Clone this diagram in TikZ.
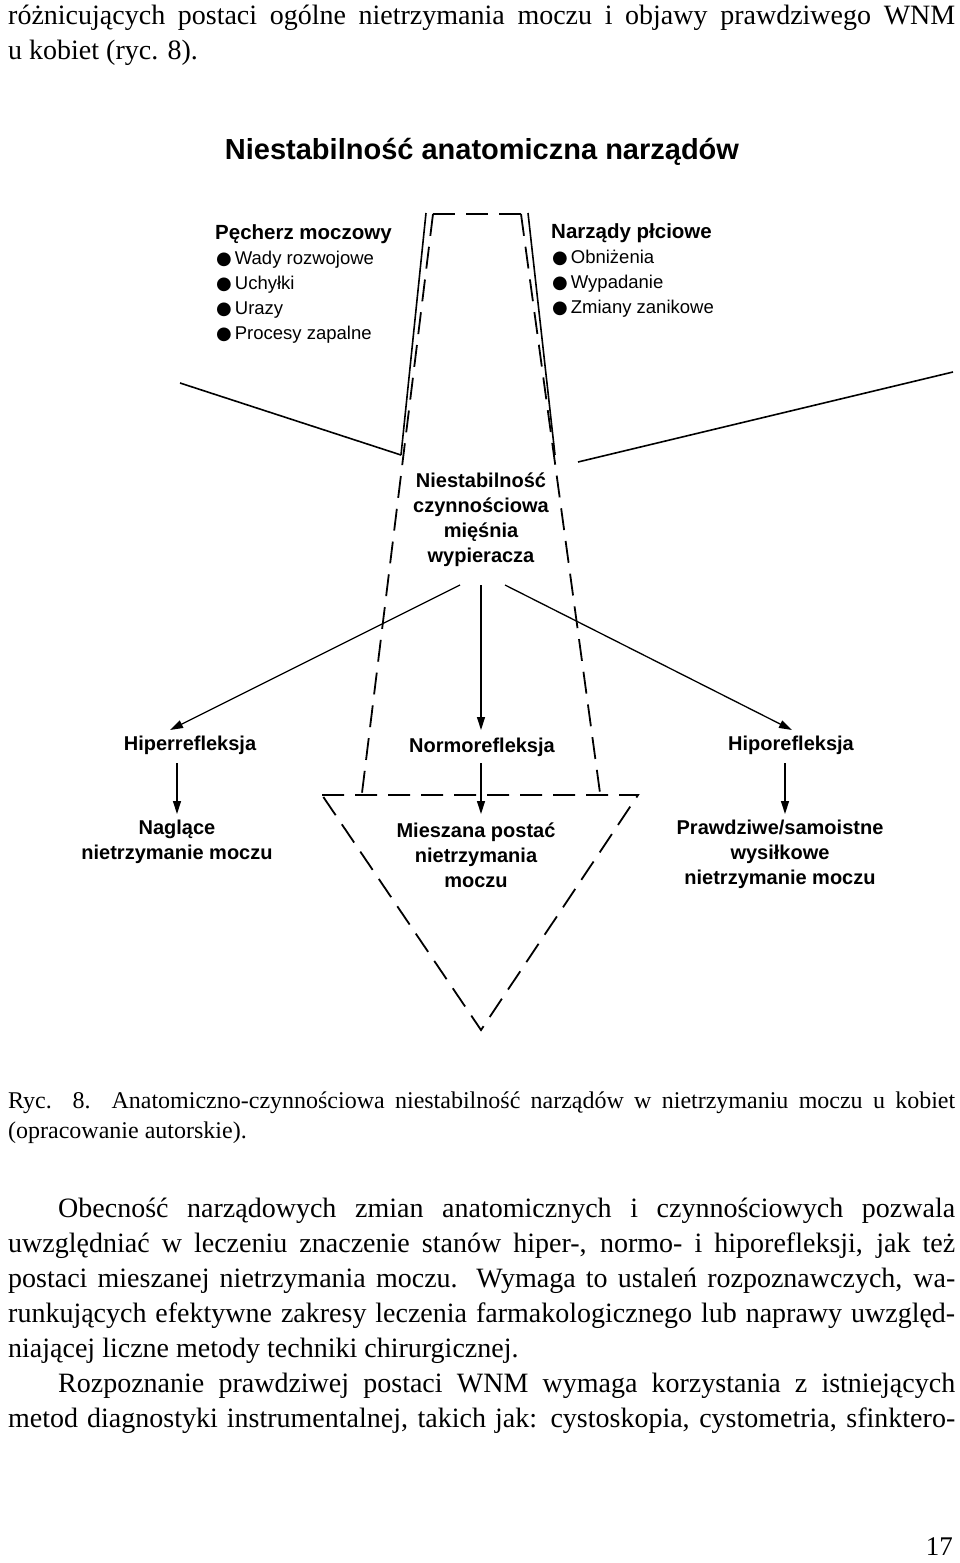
\documentclass[tikz,border=0pt]{standalone}
\usepackage{fontspec}
\setmainfont{Liberation Serif}
\newfontfamily\dsans{Liberation Sans}
\newfontfamily\bulf{DejaVu Sans}
\usetikzlibrary{arrows.meta}
\begin{document}
\begin{tikzpicture}[x=1pt,y=-1pt,
  lbl/.style={font=\dsans\bfseries\fontsize{20}{25}\selectfont,align=center,inner sep=0},
  itm/.style={font=\dsans\fontsize{18.5}{25}\selectfont,anchor=base west,inner sep=0},
  solidln/.style={line width=1.6pt},
  dsh/.style={line width=1.8pt,dash pattern=on 22pt off 11pt},
  arr/.style={line width=1.3pt,-{Triangle[length=13pt,width=8pt]}},
  body/.style={font=\fontsize{28}{35}\selectfont,anchor=north west,inner sep=0,text width=947pt,align=justify}]
\useasboundingbox (0,0) rectangle (960,1563);
% top text
\node[body] (t0) at (8,0) {\strut różnicujących postaci ogólne nietrzymania moczu i objawy prawdziwego WNM\linebreak u kobiet (ryc. 8).};
\node[font=\dsans\bfseries\fontsize{29}{34}\selectfont,inner sep=0] (title) at (482,152) {Niestabilność anatomiczna narządów};
% left block
\node[font=\dsans\bfseries\fontsize{20.5}{25}\selectfont,anchor=base west,inner sep=0] (pech) at (215,239) {Pęcherz moczowy};
\foreach \t [count=\i] in {Wady rozwojowe,Uchyłki,Urazy,Procesy zapalne}{
  \node[itm] (pb\i) at (216,{239+\i*25}) {{\bulf\fontsize{18}{18}\selectfont ●}\hspace{3pt}\t};}
\node[font=\dsans\bfseries\fontsize{20.5}{25}\selectfont,anchor=base west,inner sep=0] (narz) at (551,238) {Narządy płciowe};
\foreach \t [count=\i] in {Obniżenia,Wypadanie,Zmiany zanikowe}{
  \node[itm] (nb\i) at (552,{238+\i*25}) {{\bulf\fontsize{18}{18}\selectfont ●}\hspace{3pt}\t};}
% funnel shape
\coordinate (sl1) at (426,213); \coordinate (sl2) at (401,455);
\coordinate (sr1) at (528,213); \coordinate (sr2) at (555,455);
\draw[solidln] (sl1) -- (sl2);
\draw[solidln] (sr1) -- (sr2);
\coordinate (dl1) at (433,214); \coordinate (dr1) at (521,214);
\coordinate (dl2) at (362,793); \coordinate (dr2) at (600,793);
\coordinate (tl) at (322,795); \coordinate (tr) at (638,795); \coordinate (tb) at (481,1030);
\draw[dsh] (dl1) -- (dr1);
\draw[dsh] (dl1) -- (dl2);
\draw[dsh] (dr1) -- (dr2);
\draw[dsh] (tl) -- (tr) -- (tb) -- cycle;
% diagonals
\coordinate (ll) at (180,383); \coordinate (rl) at (953,372);
\coordinate (rm) at (578,462);
\draw[solidln] (ll) -- (sl2);
\draw[solidln] (rl) -- (rm);
\node[lbl] (nie) at (481,520) {Niestabilność\\czynnościowa\\mięśnia\\wypieracza};
\node[lbl] (hiper) at (190,745) {Hiperrefleksja};
\node[lbl] (normo) at (482,747) {Normorefleksja};
\node[lbl] (hipo) at (791,745) {Hiporefleksja};
\coordinate (a1) at (460,585); \coordinate (a2) at (481,585); \coordinate (a3) at (505,585);
\coordinate (e1) at (170,730); \coordinate (e2) at (481,730); \coordinate (e3) at (792,730);
\draw[arr] (a1) -- (e1);
\draw[arr] (a2) -- (e2);
\draw[arr] (a3) -- (e3);
\node[lbl] (nag) at (177,842) {Naglące\\nietrzymanie moczu};
\node[lbl] (mies) at (476,855) {Mieszana postać\\nietrzymania\\moczu};
\node[lbl] (praw) at (780,854) {Prawdziwe/samoistne\\wysiłkowe\\nietrzymanie moczu};
\coordinate (b1) at (177,763); \coordinate (b2) at (481,763); \coordinate (b3) at (785,763);
\coordinate (f1) at (177,814); \coordinate (f2) at (481,814); \coordinate (f3) at (785,814);
\draw[arr] (b1) -- (f1);
\draw[arr] (b2) -- (f2);
\draw[arr] (b3) -- (f3);
% caption and text
\node[body,font=\fontsize{24}{30}\selectfont] (cap) at (8,1092) {Ryc. 8. Anatomiczno-czynnościowa niestabilność narządów w nietrzymaniu moczu u kobiet\linebreak (opracowanie autorskie).};
\node[body] (par) at (8,1198) {\hspace*{50pt}Obecność narządowych zmian anatomicznych i czynnościowych pozwala\linebreak uwzględniać w leczeniu znaczenie stanów hiper-, normo- i hiporefleksji, jak też\linebreak postaci mieszanej nietrzymania moczu. Wymaga to ustaleń rozpoznawczych, wa-\linebreak runkujących efektywne zakresy leczenia farmakologicznego lub naprawy uwzględ-\linebreak niającej liczne metody techniki chirurgicznej.\par
\hspace*{50pt}Rozpoznanie prawdziwej postaci WNM wymaga korzystania z istniejących\linebreak metod diagnostyki instrumentalnej, takich jak: cystoskopia, cystometria, sfinktero-\linebreak};
\node[font=\fontsize{27}{30}\selectfont,anchor=base east,inner sep=0] (pg) at (953,1555) {17};
\end{tikzpicture}
\end{document}
